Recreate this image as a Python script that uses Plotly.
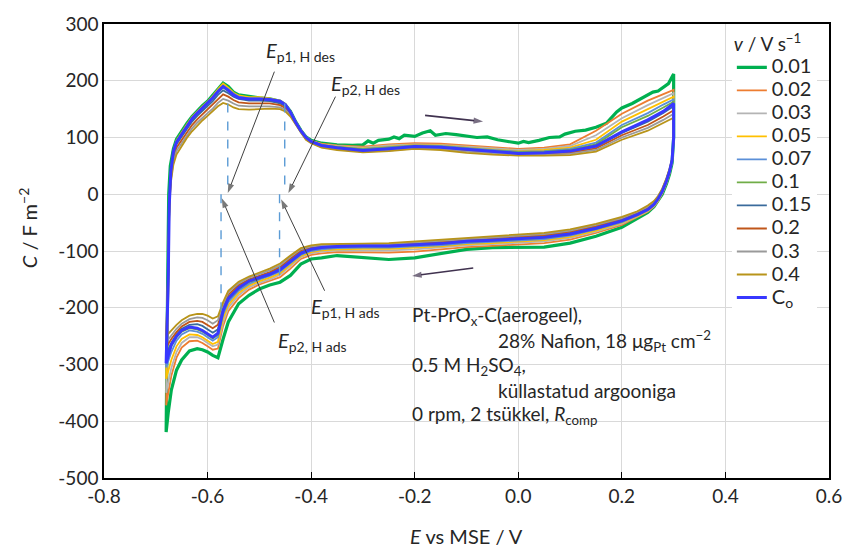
import plotly.graph_objects as go

# ---------------- data ----------------
SERIES = ["0.01", "0.02", "0.03", "0.05", "0.07", "0.1", "0.15", "0.2", "0.3", "0.4", "C<sub>o</sub>"]
COLORS = ["#00B050", "#ED7D31", "#B4B4B4", "#FFC000", "#5B8FD8", "#70AD47", "#3A6B9C", "#C0561A", "#9A9A9A", "#B8941A", "#3838FF"]
WIDTHS = [3.2, 1.8, 1.8, 1.8, 1.8, 1.8, 1.8, 1.8, 1.8, 1.8, 3.0]

X_TICKS = [-0.8, -0.6, -0.4, -0.2, 0.0, 0.2, 0.4, 0.6]
X_TICK_TEXT = ["-0.8", "-0.6", "-0.4", "-0.2", "0.0", "0.2", "0.4", "0.6"]
Y_TICKS = [-500, -400, -300, -200, -100, 0, 100, 200, 300]
Y_TICK_TEXT = ["-500", "-400", "-300", "-200", "-100", "0", "100", "200", "300"]

# anodic (upper) branch potentials, common grid
E_UP = [-0.676, -0.674, -0.671, -0.666, -0.660, -0.650, -0.640, -0.630, -0.620, -0.610,
        -0.600, -0.590, -0.580, -0.570, -0.560, -0.550, -0.540, -0.520, -0.500, -0.480,
        -0.460, -0.450, -0.440, -0.430, -0.420, -0.410, -0.400, -0.380, -0.350, -0.300,
        -0.250, -0.200, -0.150, -0.100, -0.050, 0.000, 0.050, 0.100, 0.150, 0.200,
        0.250, 0.280, 0.300]

# 0.01 V/s has its own (noisier) grid
E_UP_001 = [-0.677, -0.675, -0.672, -0.666, -0.660, -0.650, -0.640, -0.630, -0.620, -0.610,
            -0.600, -0.590, -0.580, -0.570, -0.560, -0.550, -0.540, -0.520, -0.500, -0.480,
            -0.460, -0.450, -0.440, -0.430, -0.420, -0.410, -0.400, -0.380, -0.350, -0.320,
            -0.300, -0.290, -0.280, -0.270, -0.250, -0.240, -0.230, -0.220, -0.200, -0.185,
            -0.170, -0.160, -0.140, -0.120, -0.100, -0.080, -0.060, -0.040, -0.020, 0.000,
            0.010, 0.020, 0.040, 0.060, 0.080, 0.090, 0.110, 0.130, 0.150, 0.170,
            0.190, 0.200, 0.220, 0.240, 0.260, 0.270, 0.280, 0.290, 0.300]
C_UP_001 = [-150, 0, 50, 80, 97, 112, 125, 137, 147, 156,
            164, 174, 186, 196, 190, 180, 175, 172, 170, 168,
            164, 158, 146, 128, 113, 101, 95, 90, 87, 86,
            87, 94, 90, 95, 97, 101, 98, 104, 102, 108,
            112, 104, 107, 105, 102, 100, 101, 96, 93, 90,
            93, 91, 95, 100, 101, 106, 111, 113, 118, 125,
            145, 152, 160, 170, 180, 182, 189, 195, 212]

C_UP_002 = [-180, -30, 35, 72, 92, 108, 122, 135, 145, 154, 162, 172, 184, 193, 187, 178, 173, 170, 170, 168,
            164, 158, 146, 128, 113, 101, 94, 89, 86, 84, 88, 90, 89, 86, 83, 80, 82, 88, 112, 142, 165, 176, 184]
C_UP_003 = [-170, -25, 38, 73, 92, 107, 121, 134, 144, 153, 161, 171, 183, 192, 186, 177, 172, 169, 169, 168,
            164, 158, 146, 128, 113, 101, 94, 88, 85, 82, 86, 88, 87, 84, 81, 78, 80, 85, 104, 134, 157, 169, 178]
C_UP_005 = [-160, -22, 40, 76, 95, 110, 123, 136, 146, 155, 163, 173, 185, 195, 188, 179, 174, 171, 171, 169,
            165, 159, 146, 128, 113, 101, 94, 88, 84, 81, 84, 87, 86, 82, 79, 76, 78, 82, 96, 128, 150, 163, 172]
C_UP_007 = [-155, -20, 40, 74, 93, 107, 121, 134, 144, 153, 161, 171, 182, 191, 185, 177, 172, 169, 169, 168,
            164, 158, 145, 127, 112, 100, 93, 87, 83, 80, 83, 86, 85, 81, 78, 75, 76, 80, 91, 122, 143, 158, 167]
C_UP_01 = [-150, -20, 40, 73, 91, 105, 119, 132, 142, 151, 159, 169, 180, 188, 182, 175, 170, 167, 167, 166,
           162, 156, 144, 127, 112, 100, 93, 86, 83, 79, 82, 85, 84, 80, 77, 74, 75, 78, 88, 118, 138, 153, 163]
C_UP_015 = [-145, -20, 38, 70, 88, 101, 115, 128, 138, 147, 155, 164, 175, 183, 178, 172, 168, 165, 165, 164,
            160, 155, 143, 126, 111, 99, 92, 85, 81, 77, 79, 83, 82, 78, 75, 72, 72, 75, 84, 108, 128, 143, 155]
C_UP_02 = [-140, -22, 30, 64, 82, 95, 109, 122, 132, 141, 149, 158, 168, 176, 172, 166, 162, 160, 160, 160,
           157, 152, 141, 125, 110, 98, 91, 84, 80, 76, 78, 82, 81, 77, 73, 71, 71, 73, 81, 104, 122, 137, 148]
C_UP_03 = [-135, -25, 25, 58, 76, 90, 104, 116, 126, 135, 143, 151, 161, 168, 165, 160, 156, 155, 155, 155,
           153, 149, 139, 124, 109, 97, 91, 83, 79, 75, 77, 81, 80, 75, 72, 70, 70, 71, 78, 100, 117, 131, 142]
C_UP_04 = [-130, -28, 20, 52, 70, 85, 99, 111, 121, 130, 138, 146, 155, 161, 158, 153, 150, 149, 150, 151,
           150, 146, 137, 123, 108, 96, 90, 82, 78, 74, 76, 80, 78, 73, 70, 68, 68, 69, 75, 96, 112, 125, 135]
C_UP_CO = [-150, -20, 40, 75, 92, 106, 120, 133, 143, 152, 160, 170, 181, 190, 183, 175, 170, 168, 168, 167,
           164, 158, 145, 127, 112, 100, 93, 86, 82, 77, 80, 84, 83, 79, 75, 72, 73, 76, 85, 110, 131, 146, 160]

# cathodic (lower) branch potentials, common grid
E_DN = [0.300, 0.297, 0.292, 0.286, 0.278, 0.270, 0.262, 0.250, 0.230, 0.200,
        0.150, 0.100, 0.050, 0.000, -0.050, -0.100, -0.150, -0.200, -0.250, -0.300,
        -0.350, -0.380, -0.400, -0.420, -0.440, -0.460, -0.480, -0.500, -0.520, -0.540,
        -0.560, -0.570, -0.580, -0.590, -0.600, -0.610, -0.620, -0.635, -0.650, -0.660,
        -0.670, -0.676, -0.680]

C_DN_001 = [100, 55, 35, 18, 0, -12, -22, -32, -42, -58, -74, -86, -93, -94, -94, -97, -105, -112, -115, -112,
            -108, -112, -114, -123, -143, -155, -160, -167, -178, -193, -225, -255, -288, -284, -278, -274, -272, -276, -292, -310,
            -345, -385, -419]
C_DN_002 = [100, 56, 36, 19, 1, -12, -22, -31, -40, -54, -68, -80, -86, -89, -91, -93, -97, -101, -103, -103,
            -102, -104, -107, -114, -131, -146, -153, -159, -168, -183, -206, -232, -272, -274, -268, -262, -258, -259, -270, -288,
            -320, -350, -372]
C_DN_003 = [100, 57, 37, 20, 2, -11, -21, -30, -39, -52, -66, -77, -83, -86, -88, -90, -94, -97, -99, -99,
            -99, -101, -104, -111, -127, -142, -150, -156, -164, -178, -200, -225, -265, -268, -262, -256, -252, -252, -262, -278,
            -306, -332, -350]
C_DN_005 = [100, 58, 38, 21, 3, -10, -20, -29, -38, -50, -64, -75, -81, -84, -86, -88, -92, -94, -96, -96,
            -97, -99, -102, -109, -124, -139, -147, -153, -161, -174, -195, -218, -260, -264, -258, -252, -248, -247, -255, -268,
            -292, -312, -325]
C_DN_007 = [100, 59, 39, 22, 4, -9, -19, -28, -37, -49, -62, -73, -79, -82, -84, -86, -90, -92, -94, -94,
            -95, -97, -100, -107, -121, -136, -144, -150, -158, -170, -190, -212, -252, -258, -252, -246, -242, -240, -247, -258,
            -278, -295, -305]
C_DN_01 = [100, 60, 40, 23, 5, -8, -18, -27, -36, -48, -61, -71, -77, -80, -82, -84, -88, -90, -92, -92,
           -93, -95, -98, -105, -119, -134, -142, -148, -155, -167, -186, -208, -248, -254, -248, -242, -238, -236, -242, -252,
           -268, -282, -290]
C_DN_015 = [100, 61, 42, 25, 7, -6, -16, -25, -35, -45, -58, -68, -74, -77, -79, -82, -85, -88, -90, -90,
            -91, -93, -96, -102, -116, -131, -139, -145, -152, -163, -181, -202, -238, -244, -238, -232, -229, -230, -237, -247,
            -262, -275, -282]
C_DN_02 = [100, 61, 43, 26, 8, -5, -15, -24, -33, -43, -56, -66, -72, -75, -78, -80, -84, -86, -89, -89,
           -90, -92, -94, -99, -113, -128, -137, -143, -150, -160, -177, -198, -230, -236, -230, -225, -223, -225, -233, -243,
           -255, -264, -270]
C_DN_03 = [100, 62, 44, 27, 9, -4, -13, -22, -31, -42, -54, -64, -70, -73, -76, -79, -82, -85, -88, -88,
           -89, -90, -92, -97, -110, -125, -134, -140, -147, -157, -173, -194, -222, -228, -222, -218, -217, -220, -228, -237,
           -248, -256, -262]
C_DN_04 = [100, 62, 45, 28, 10, -3, -12, -20, -30, -40, -52, -62, -68, -71, -74, -77, -80, -83, -86, -87,
           -88, -88, -90, -95, -108, -122, -131, -138, -145, -154, -170, -190, -215, -219, -214, -211, -211, -214, -222, -230,
           -240, -246, -250]
C_DN_CO = [100, 60, 40, 23, 5, -8, -18, -27, -36, -47, -60, -70, -76, -79, -81, -83, -87, -89, -91, -91,
           -92, -94, -97, -104, -118, -133, -141, -147, -153, -165, -184, -205, -245, -252, -246, -240, -236, -234, -240, -250,
           -265, -283, -298]

UPPER = [(E_UP_001, C_UP_001), (E_UP, C_UP_002), (E_UP, C_UP_003), (E_UP, C_UP_005), (E_UP, C_UP_007),
         (E_UP, C_UP_01), (E_UP, C_UP_015), (E_UP, C_UP_02), (E_UP, C_UP_03), (E_UP, C_UP_04), (E_UP, C_UP_CO)]
LOWER = [C_DN_001, C_DN_002, C_DN_003, C_DN_005, C_DN_007, C_DN_01, C_DN_015, C_DN_02, C_DN_03, C_DN_04, C_DN_CO]

# peak-marker dashed lines
DASH_E = [-0.561, -0.451, -0.574, -0.461]
DASH_FROM = [160, 160, 0, 0]
DASH_TO = [3, 3, -205, -158]

# arrows: tail (E, C) -> tip (E, C)
PEAK_ARROW_TAIL_E = [-0.471, -0.353, -0.374, -0.471]
PEAK_ARROW_TAIL_C = [216, 172, -170, -226]
PEAK_ARROW_TIP_E = [-0.561, -0.444, -0.458, -0.5725]
PEAK_ARROW_TIP_C = [2, 2, -9, -7]
SWEEP_ARROW_TAIL_E = [-0.180, -0.087]
SWEEP_ARROW_TAIL_C = [139, -130]
SWEEP_ARROW_TIP_E = [-0.068, -0.205]
SWEEP_ARROW_TIP_C = [128, -144]

# ---------------- figure ----------------
fig = go.Figure()

for k, name in enumerate(SERIES):
    eu, cu = UPPER[k]
    cd = LOWER[k]
    xs = list(E_DN) + list(eu) + [E_DN[0]]
    ys = list(cd) + list(cu) + [cd[0]]
    fig.add_trace(go.Scatter(
        x=xs, y=ys, mode="lines",
        name='<span style="font-size:20px">' + name + '</span>',
        line=dict(color=COLORS[k], width=WIDTHS[k]),
    ))

for e, a, b in zip(DASH_E, DASH_FROM, DASH_TO):
    fig.add_trace(go.Scatter(x=[e, e], y=[a, b], mode="lines", showlegend=False, hoverinfo="skip",
                             line=dict(color="#5B9BD5", width=1.4, dash="dash")))


def add_arrow(x0, y0, x1, y1, color, width, size):
    fig.add_trace(go.Scatter(
        x=[x0, x1], y=[y0, y1], mode="lines+markers", showlegend=False, hoverinfo="skip",
        line=dict(color=color, width=width),
        marker=dict(symbol=["circle", "arrow"], size=[0, size], angleref="previous",
                    color=color, line=dict(width=0)),
    ))


for i in range(len(PEAK_ARROW_TIP_E)):
    add_arrow(PEAK_ARROW_TAIL_E[i], PEAK_ARROW_TAIL_C[i], PEAK_ARROW_TIP_E[i], PEAK_ARROW_TIP_C[i],
              "#404040", 1, 10)
for i in range(len(SWEEP_ARROW_TIP_E)):
    add_arrow(SWEEP_ARROW_TAIL_E[i], SWEEP_ARROW_TAIL_C[i], SWEEP_ARROW_TIP_E[i], SWEEP_ARROW_TIP_C[i],
              "#40324F", 1.6, 10)

FONT = "Lato"
TXT = "#262626"

annotations = []
LABELS = [(-0.421, 251, "<i>E</i><sub>p1, H des</sub>"),
          (-0.295, 193, "<i>E</i><sub>p2, H des</sub>"),
          (-0.334, -200, "<i>E</i><sub>p1, H ads</sub>"),
          (-0.397, -260, "<i>E</i><sub>p2, H ads</sub>")]
for x, y, t in LABELS:
    annotations.append(dict(x=x, y=y, xref="x", yref="y", text=t, showarrow=False,
                            font=dict(family=FONT, size=20, color=TXT)))

INFO = [(-0.209, -214, "Pt-PrO<sub>x</sub>-C(aerogeel),"),
        (-0.043, -258, "28% Nafion, 18 μg<sub>Pt</sub> cm<sup>−2</sup>"),
        (-0.209, -302, "0.5 M H<sub>2</sub>SO<sub>4</sub>,"),
        (-0.043, -346, "küllastatud argooniga"),
        (-0.209, -389, "0 rpm, 2 tsükkel, <i>R</i><sub>comp</sub>")]
for x, y, t in INFO:
    annotations.append(dict(x=x, y=y, xref="x", yref="y", text=t, showarrow=False,
                            xanchor="left", yanchor="middle",
                            font=dict(family=FONT, size=19, color=TXT)))

# axis titles
annotations.append(dict(x=0.5, y=-0.127, xref="paper", yref="paper", showarrow=False,
                        text="<i>E</i> vs MSE / V", xanchor="center", yanchor="middle",
                        font=dict(family=FONT, size=20, color=TXT)))
annotations.append(dict(x=-0.105, y=0.55, xref="paper", yref="paper", showarrow=False,
                        text="<i>C</i> / F m<sup>−2</sup>", textangle=-90,
                        xanchor="center", yanchor="middle",
                        font=dict(family=FONT, size=20, color=TXT)))

fig.update_layout(
    width=854, height=551,
    margin=dict(l=104, r=17, t=22, b=73),
    paper_bgcolor="white", plot_bgcolor="white",
    font=dict(family=FONT, size=19, color=TXT),
    showlegend=True,
    legend=dict(
        x=0.866, y=0.985, xanchor="left", yanchor="top",
        bgcolor="white", borderwidth=0,
        font=dict(family=FONT, size=15.4, color=TXT),
        title=dict(text='<span style="font-size:19px"><i>v</i> / V s<sup>−1</sup></span>',
                   font=dict(family=FONT, size=15.4, color=TXT)),
        tracegroupgap=0,
    ),
    annotations=annotations,
)
fig.update_xaxes(range=[-0.8, 0.6], tickvals=X_TICKS, ticktext=X_TICK_TEXT,
                 showgrid=True, gridcolor="#D9D9D9", gridwidth=1,
                 showline=True, linecolor="black", linewidth=1.5, mirror=True,
                 ticks="inside", ticklen=6, tickcolor="black", tickwidth=1.2,
                 zeroline=False, tickfont=dict(family=FONT, size=19, color=TXT))
fig.update_yaxes(range=[-500, 300], tickvals=Y_TICKS, ticktext=Y_TICK_TEXT,
                 showgrid=True, gridcolor="#D9D9D9", gridwidth=1,
                 showline=True, linecolor="black", linewidth=1.5, mirror=True,
                 ticks="", zeroline=False, tickfont=dict(family=FONT, size=19, color=TXT))

fig.write_html("out.html")
